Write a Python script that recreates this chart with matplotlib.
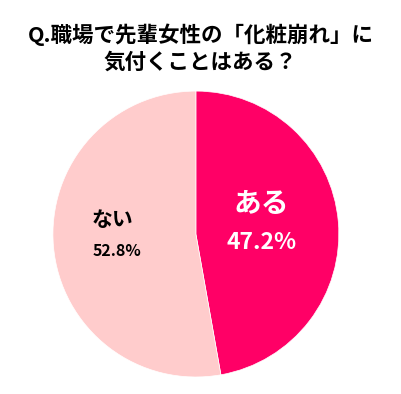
import matplotlib.pyplot as plt

plt.rcParams['font.family'] = ['Noto Sans CJK JP', 'DejaVu Sans']

labels = ['ある', 'ない']
values = [47.2, 52.8]
colors = ['#FF0066', '#FFCCCC']
title = 'Q.職場で先輩女性の「化粧崩れ」に\n気付くことはある？'

fig = plt.figure(figsize=(4.01, 3.94), dpi=100)
ax = fig.add_axes([0.132, 0.043, 0.713, 0.726])
wedges, _ = ax.pie(values, colors=colors, startangle=90, counterclock=False,
                   wedgeprops=dict(linewidth=0.5, edgecolor='white'))
ax.set_xlim(-1, 1)
ax.set_ylim(-1, 1)
ax.set_aspect('equal')

# labels placed inside slices
ax.text(0.46, 0.21, labels[0], ha='center', va='center', color='white',
        fontsize=20, fontweight='bold')
ax.text(0.46, -0.06, '%.1f%%' % values[0], ha='center', va='center', color='white',
        fontsize=16.5, fontweight='bold')
ax.text(-0.58, 0.10, labels[1], ha='center', va='center', color='black',
        fontsize=15, fontweight='bold')
ax.text(-0.55, -0.12, '%.1f%%' % values[1], ha='center', va='center', color='black',
        fontsize=11.5, fontweight='bold')

fig.text(0.5, 0.878, title, ha='center', va='center', fontsize=15.5,
         fontweight='bold', linespacing=1.3)

fig.savefig('out.png', dpi=100)
